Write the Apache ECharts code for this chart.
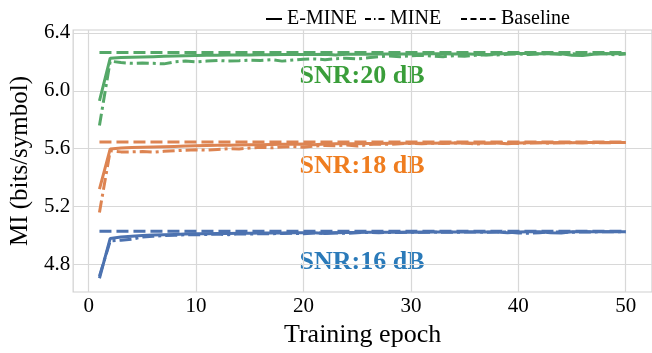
<!DOCTYPE html>
<html><head><meta charset="utf-8">
<script src="https://cdn.jsdelivr.net/npm/echarts@6/dist/echarts.min.js"></script>
<style>html,body{margin:0;padding:0;background:#fff}#c{width:652px;height:353px}</style>
</head><body><div id="c"></div>
<script>
const epochs = [1,2,3,4,5,6,7,8,9,10,11,12,13,14,15,16,17,18,19,20,21,22,23,24,25,26,27,28,29,30,31,32,33,34,35,36,37,38,39,40,41,42,43,44,45,46,47,48,49,50];
const eMine20 = [5.93,6.225,6.23,6.232,6.234,6.236,6.238,6.24,6.242,6.244,6.245,6.246,6.247,6.247,6.248,6.249,6.249,6.25,6.25,6.251,6.251,6.252,6.248,6.252,6.253,6.253,6.254,6.254,6.255,6.255,6.255,6.256,6.256,6.255,6.256,6.252,6.247,6.254,6.257,6.257,6.257,6.256,6.257,6.255,6.246,6.244,6.252,6.257,6.256,6.257];
const mine20 = [5.76,6.205,6.195,6.19,6.192,6.19,6.186,6.2,6.205,6.2,6.205,6.21,6.205,6.208,6.212,6.21,6.215,6.205,6.212,6.218,6.22,6.215,6.222,6.225,6.22,6.228,6.235,6.24,6.236,6.242,6.245,6.24,6.236,6.242,6.238,6.245,6.25,6.248,6.252,6.255,6.25,6.255,6.256,6.252,6.256,6.25,6.255,6.257,6.248,6.255];
const eMine18 = [5.32,5.598,5.605,5.608,5.61,5.612,5.614,5.616,5.618,5.62,5.622,5.623,5.624,5.626,5.627,5.628,5.629,5.63,5.631,5.632,5.628,5.633,5.634,5.634,5.635,5.636,5.636,5.637,5.637,5.638,5.638,5.638,5.639,5.639,5.64,5.638,5.64,5.64,5.634,5.64,5.641,5.641,5.641,5.642,5.641,5.642,5.642,5.642,5.643,5.643];
const mine18 = [5.16,5.585,5.578,5.578,5.58,5.576,5.582,5.585,5.59,5.592,5.59,5.595,5.6,5.598,5.605,5.61,5.606,5.612,5.615,5.61,5.618,5.622,5.62,5.625,5.618,5.628,5.632,5.63,5.635,5.636,5.634,5.638,5.636,5.639,5.64,5.632,5.638,5.64,5.641,5.636,5.64,5.641,5.638,5.641,5.642,5.64,5.642,5.641,5.642,5.643];
const eMine16 = [4.705,4.98,4.99,4.995,5.0,5.003,5.006,5.008,5.01,5.012,5.013,5.014,5.015,5.016,5.016,5.017,5.018,5.018,5.019,5.019,5.02,5.014,5.02,5.021,5.021,5.022,5.022,5.022,5.023,5.023,5.023,5.024,5.024,5.024,5.024,5.025,5.025,5.025,5.02,5.025,5.026,5.026,5.02,5.018,5.026,5.026,5.026,5.027,5.027,5.027];
const mine16 = [4.72,4.962,4.968,4.975,4.99,4.995,5.0,5.002,5.005,5.005,5.008,5.01,5.006,5.012,5.01,5.014,5.012,5.015,5.016,5.012,5.018,5.016,5.019,5.015,5.02,5.021,5.02,5.022,5.021,5.023,5.022,5.024,5.023,5.022,5.024,5.025,5.023,5.025,5.024,5.018,5.016,5.02,5.024,5.025,5.022,5.026,5.025,5.026,5.026,5.027];
const baselineEpochs = [1, 50];
const baseline20 = [6.265, 6.265];
const baseline18 = [5.646, 5.646];
const baseline16 = [5.029, 5.029];
const xTicks = [0,10,20,30,40,50];
const yTicks = [4.8,5.2,5.6,6.0,6.4];
const snrLabels = ['SNR:20 dB','SNR:18 dB','SNR:16 dB'];
const seriesNames = ['E-MINE','MINE','Baseline'];

const GREEN='#55a868', ORANGE='#dd8452', BLUE='#4c72b0';
const FONT='"Liberation Serif","Times New Roman",serif';
const DASHDOT=[12,4,3,4], DASH=[12,5];
function pairs(xs, ys){ return xs.map((x,i)=>[x, ys[i]]); }
function ln(name, xs, ys, color, type){
  return {name, type:'line', data:pairs(xs,ys), showSymbol:false, symbol:'none', silent:true,
    lineStyle:{color, width:3, type}, itemStyle:{color}, z: type==='solid'?3:2, animation:false};
}
const series = [
  ln('b20', baselineEpochs, baseline20, GREEN, DASH),
  ln('m20', epochs, mine20, GREEN, DASHDOT),
  ln('e20', epochs, eMine20, GREEN, 'solid'),
  ln('b18', baselineEpochs, baseline18, ORANGE, DASH),
  ln('m18', epochs, mine18, ORANGE, DASHDOT),
  ln('e18', epochs, eMine18, ORANGE, 'solid'),
  ln('b16', baselineEpochs, baseline16, BLUE, DASH),
  ln('m16', epochs, mine16, BLUE, DASHDOT),
  ln('e16', epochs, eMine16, BLUE, 'solid'),
  {name:seriesNames[0], type:'line', data:[], symbol:'none', lineStyle:{color:'#000', width:1.5, type:'solid'}, itemStyle:{color:'#000'}},
  {name:seriesNames[1], type:'line', data:[], symbol:'none', lineStyle:{color:'#000', width:1.5, type:[6,3,1.5,3]}, itemStyle:{color:'#000'}},
  {name:seriesNames[2], type:'line', data:[], symbol:'none', lineStyle:{color:'#000', width:1.5, type:[6,3.5]}, itemStyle:{color:'#000'}}
];
const legText = {color:'#000', fontFamily:FONT, fontSize:20};
const legCommon = {top:4, itemHeight:14, itemGap:0, textStyle:legText, itemStyle:{opacity:0}, selectedMode:false};
const chart = echarts.init(document.getElementById('c'), null, {renderer:'canvas'});
chart.setOption({
  animation:false,
  backgroundColor:'#fff',
  grid:{left:68, top:30, bottom:55, right:-10, show:true, borderColor:'#d0d0d0', borderWidth:1.2, containLabel:false},
  legend:[
    Object.assign({data:[seriesNames[0]], left:260, itemWidth:16}, legCommon),
    Object.assign({data:[seriesNames[1]], left:359, itemWidth:20}, legCommon),
    Object.assign({data:[seriesNames[2]], left:455, itemWidth:35}, legCommon)
  ],
  xAxis:{type:'value', min:-1.45, max:52.45,
    name:'Training epoch', nameLocation:'middle', nameGap:30,
    nameTextStyle:{fontFamily:FONT, fontSize:26, color:'#000'},
    axisLine:{show:false}, axisTick:{show:false, customValues:xTicks},
    axisLabel:{customValues:xTicks, fontFamily:FONT, fontSize:21, color:'#000', margin:4},
    splitLine:{show:true, lineStyle:{color:'#d8d8d8', width:1.2}}},
  yAxis:{type:'value', min:4.61, max:6.42,
    name:'MI (bits/symbol)', nameLocation:'middle', nameGap:35,
    nameTextStyle:{fontFamily:FONT, fontSize:25, color:'#000'},
    axisLine:{show:false}, axisTick:{show:false, customValues:yTicks},
    axisLabel:{customValues:yTicks, fontFamily:FONT, fontSize:21, color:'#000', margin:3, formatter:v=>v.toFixed(1)},
    splitLine:{show:true, lineStyle:{color:'#d8d8d8', width:1.2}}},
  series,
  graphic:[
    {type:'text', x:362, y:76, style:{text:snrLabels[0], fill:'#3a9e3a', font:'bold 26px '+FONT, align:'center', verticalAlign:'middle'}},
    {type:'text', x:362, y:166, style:{text:snrLabels[1], fill:'#ef7d1f', font:'bold 26px '+FONT, align:'center', verticalAlign:'middle'}},
    {type:'text', x:362, y:262, style:{text:snrLabels[2], fill:'#2a7ab9', font:'bold 26px '+FONT, align:'center', verticalAlign:'middle'}}
  ]
});
</script></body></html>
